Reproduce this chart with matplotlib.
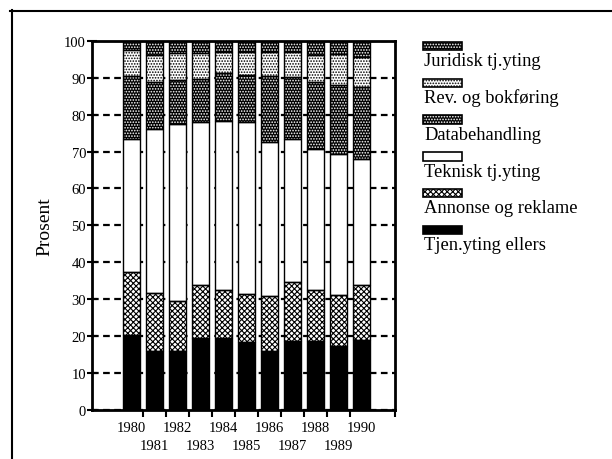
import matplotlib.pyplot as plt
from matplotlib.patches import Rectangle
import numpy as np

plt.rcParams["font.family"] = ["Liberation Serif", "DejaVu Serif"]
plt.rcParams["hatch.linewidth"] = 0.8

# Share (%) per year (bottom -> top)
years = [1980, 1981, 1982, 1983, 1984, 1985, 1986, 1987, 1988, 1989, 1990]
tjen_ellers = [20.1, 15.8, 15.8, 19.4, 19.4, 18.2, 15.8, 18.5, 18.5, 17.3, 18.8]
annonse = [17.2, 15.9, 13.7, 14.3, 12.9, 13.2, 15.0, 16.1, 13.8, 13.7, 14.9]
teknisk = [36.1, 44.3, 48.0, 44.4, 46.0, 46.7, 41.7, 38.7, 38.4, 38.4, 34.3]
databeh = [17.2, 13.0, 12.0, 11.6, 13.0, 12.7, 17.9, 16.9, 18.1, 18.7, 19.5]
rev_bokf = [7.0, 7.2, 7.2, 7.0, 5.8, 6.3, 6.7, 6.9, 7.4, 8.4, 8.1]
juridisk = [2.4, 3.8, 3.3, 3.3, 2.9, 2.9, 2.9, 2.9, 3.8, 3.5, 4.4]

series = [tjen_ellers, annonse, teknisk, databeh, rev_bokf, juridisk]
labels = ["Tjen.yting ellers", "Annonse og reklame", "Teknisk tj.yting",
          "Databehandling", "Rev. og bokføring", "Juridisk tj.yting"]
# (face, hatch, hatch colour)
styles = [("black", None, "black"),
          ("white", "xxxxxx", "black"),
          ("white", None, "black"),
          ("black", "......", "white"),
          ("white", "......", "black"),
          ("black", "......", "white")]

fig = plt.figure(figsize=(6.12, 4.6), dpi=100)
ax = fig.add_axes([0.1508, 0.1076, 0.4946, 0.8011])

x = np.arange(len(years))
bottom = np.zeros(len(years))
for vals, (fc, hatch, hc) in zip(series, styles):
    ax.bar(x, vals, 0.72, bottom=bottom, color=fc, edgecolor=hc, hatch=hatch,
           linewidth=0, zorder=2)
    ax.bar(x, vals, 0.72, bottom=bottom, fill=False, edgecolor="black",
           linewidth=1, zorder=3)
    bottom += np.array(vals)

ax.set_ylim(0, 100)
ax.set_xlim(-1.71, 11.45)
ax.set_yticks(range(0, 101, 10))
ax.yaxis.grid(True, color="black", linestyle=(0, (3, 2)), linewidth=1.6)
ax.set_axisbelow(True)
ax.tick_params(axis="y", direction="inout", length=7, width=1.5,
               labelsize=10.5, pad=1)

# even years on the first row, odd years on a second row below
ax.set_xticks(x[::2])
ax.set_xticklabels([str(y) for y in years[::2]])
ax.tick_params(axis="x", which="major", length=0, pad=8, labelsize=10.5)
ax.set_xticks(list(x[:-1] + 0.5) + [11.45], minor=True)
ax.tick_params(axis="x", which="minor", direction="out", length=5, width=1.5)

sec = ax.secondary_xaxis("bottom")
sec.set_xticks(x[1::2])
sec.set_xticklabels([str(y) for y in years[1::2]])
sec.tick_params(axis="x", length=0, pad=21, labelsize=10.5)
sec.spines["bottom"].set_visible(False)

for s in ax.spines.values():
    s.set_linewidth(2)

ax.set_ylabel("Prosent", fontsize=14)
ax.yaxis.set_label_coords(-0.13, 0.5)

# overlay in pixel coordinates for the frame and the legend
ov = fig.add_axes([0, 0, 1, 1], zorder=-1)
ov.set_xlim(0, 612)
ov.set_ylim(460, 0)
ov.axis("off")
ov.plot([10, 612], [11.7, 11.7], color="black", linewidth=1.5)
ov.plot([11.7, 11.7], [11, 460], color="black", linewidth=1.5)

for k, (lab, (fc, hatch, hc)) in enumerate(zip(labels[::-1], styles[::-1])):
    y0 = 42.7 + k * 36.8
    ov.add_patch(Rectangle((423, y0), 39, 8.5, facecolor=fc, edgecolor=hc,
                           hatch=hatch, linewidth=0))
    ov.add_patch(Rectangle((423, y0), 39, 8.5, fill=False, edgecolor="black",
                           linewidth=1.2))
    ov.text(424, y0 + 19, lab, fontsize=13.3, va="center", ha="left")

fig.savefig("out.png", dpi=100)
